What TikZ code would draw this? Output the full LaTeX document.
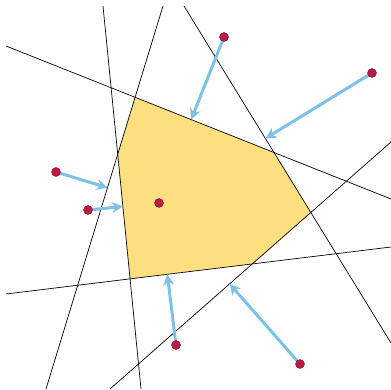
\documentclass[tikz,border=0pt]{standalone}
\usetikzlibrary{arrows.meta,calc}
\definecolor{HullYellow}{RGB}{253,223,127}
\definecolor{ProjBlue}{RGB}{125,193,233}
\definecolor{SiteRed}{RGB}{189,27,67}
\definecolor{SiteEdge}{RGB}{105,20,40}

\begin{document}
\begin{tikzpicture}[x=1pt,y=-1pt,
  halfplane/.style={draw=black, line width=0.7pt},
  proj/.style={-{Stealth[length=11pt,width=11pt]}, ProjBlue, line width=3pt},
  site/.style={circle, fill=SiteRed, draw=SiteEdge, line width=0.4pt, minimum size=9pt, inner sep=0pt}]
  \useasboundingbox (0,0) rectangle (391,390);
  % line end points
  \coordinate (a1) at (103,6);   \coordinate (a2) at (141,389);
  \coordinate (b1) at (163,6);   \coordinate (b2) at (46,389);
  \coordinate (c1) at (184,6);   \coordinate (c2) at (391,343);
  \coordinate (d1) at (6,46);    \coordinate (d2) at (391,199);
  \coordinate (e1) at (6,294);   \coordinate (e2) at (391,247);
  \coordinate (f1) at (110,389); \coordinate (f2) at (391,142);
  % feasible region
  \fill[HullYellow] (intersection of b1--b2 and d1--d2)
    -- (intersection of d1--d2 and c1--c2)
    -- (intersection of c1--c2 and f1--f2)
    -- (intersection of f1--f2 and e1--e2)
    -- (intersection of e1--e2 and a1--a2)
    -- (intersection of a1--a2 and b1--b2) -- cycle;
  \draw[halfplane] (a1) -- (a2);
  \draw[halfplane] (b1) -- (b2);
  \draw[halfplane] (c1) -- (c2);
  \draw[halfplane] (d1) -- (d2);
  \draw[halfplane] (e1) -- (e2);
  \draw[halfplane] (f1) -- (f2);
  % points and their projections
  \coordinate (p1) at (224,37);
  \coordinate (p2) at (372,73);
  \coordinate (p3) at (56,172);
  \coordinate (p4) at (88,210);
  \coordinate (p5) at (159,203);
  \coordinate (p6) at (176,345);
  \coordinate (p7) at (300,364);
  \draw[proj] (p1) -- ($(d1)!(p1)!(d2)$);
  \draw[proj] (p2) -- ($(c1)!(p2)!(c2)$);
  \draw[proj] (p3) -- ($(b1)!(p3)!(b2)$);
  \draw[proj] (p4) -- ($(a1)!(p4)!(a2)$);
  \draw[proj] (p6) -- ($(e1)!(p6)!(e2)$);
  \draw[proj] (p7) -- ($(f1)!(p7)!(f2)$);
  \foreach \i in {1,...,7}
    \node[site] (s\i) at (p\i) {};
\end{tikzpicture}
\end{document}
